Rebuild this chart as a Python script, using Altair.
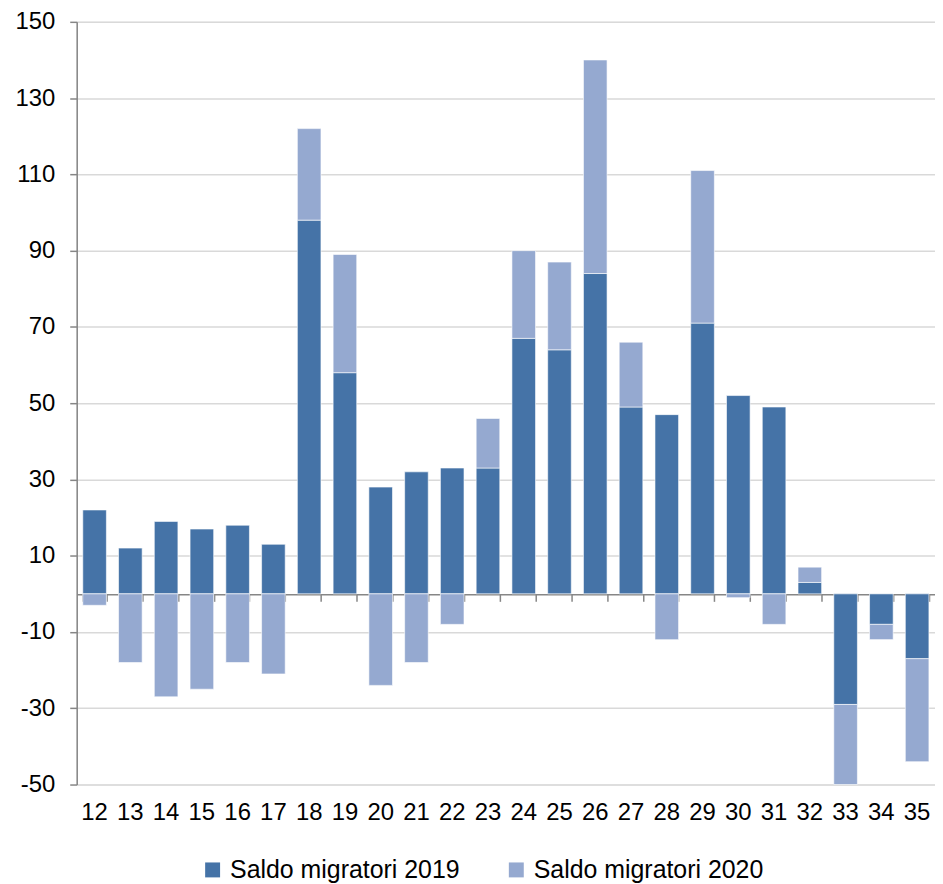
import altair as alt
import pandas as pd

regions = ["12", "13", "14", "15", "16", "17", "18", "19", "20", "21", "22", "23",
           "24", "25", "26", "27", "28", "29", "30", "31", "32", "33", "34", "35"]
saldo_2019 = [22, 12, 19, 17, 18, 13, 98, 58, 28, 32, 33, 33,
              67, 64, 84, 49, 47, 71, 52, 49, 3, -29, -8, -17]
saldo_2020 = [-3, -18, -27, -25, -18, -21, 24, 31, -24, -18, -8, 13,
              23, 23, 56, 17, -12, 40, -1, -8, 4, -21, -4, -27]
series = ["Saldo migratori 2019", "Saldo migratori 2020"]
y_ticks = [-50, -30, -10, 10, 30, 50, 70, 90, 110, 130, 150]

rows = []
for i, r in enumerate(regions):
    rows.append({"reg": r, "serie": series[0], "val": saldo_2019[i], "ord": 0})
    rows.append({"reg": r, "serie": series[1], "val": saldo_2020[i], "ord": 1})
df = pd.DataFrame(rows)

FONT = "Liberation Sans"
x_scale = alt.Scale(domain=regions, paddingInner=0.34, paddingOuter=0.17)
y_scale = alt.Scale(domain=[-50, 150], nice=False, zero=False)

bars = alt.Chart(df).mark_bar(stroke="white", strokeWidth=0.6).encode(
    x=alt.X("reg:N", scale=x_scale, sort=regions, title=None,
            axis=alt.Axis(orient="bottom", domain=False, ticks=False, labelAngle=0,
                          labelFont=FONT, labelFontSize=24, labelColor="#000000",
                          labelPadding=16, grid=False)),
    y=alt.Y("val:Q", stack="zero", scale=y_scale, title=None,
            axis=alt.Axis(values=y_ticks, grid=True, gridColor="#D9D9D9", gridWidth=1.5,
                          domainColor="#868686", domainWidth=1.5, tickColor="#868686",
                          tickWidth=1.5, tickSize=7, labelPadding=15, labelFont=FONT,
                          labelFontSize=24, labelColor="#000000",
                          labelExpr="'' + datum.value",
                          minExtent=69, maxExtent=69)),
    color=alt.Color("serie:N", scale=alt.Scale(domain=series, range=["#4573A7", "#95A9D0"]),
                    legend=alt.Legend(title=None, orient="none", direction="horizontal",
                                      legendX=124, legendY=839, symbolType="square",
                                      symbolSize=225, symbolStrokeWidth=0,
                                      labelFont=FONT, labelFontSize=25, labelLimit=0,
                                      labelColor="#000000", labelOffset=5,
                                      columnPadding=44)),
    order=alt.Order("ord:Q"),
)

zero_axis = alt.Chart(df).mark_point(opacity=0).encode(
    x=alt.X("reg:N", scale=x_scale, sort=regions, title=None,
            axis=alt.Axis(orient="bottom", offset=-191, labels=False, domain=True,
                          domainColor="#868686", domainWidth=1.5, ticks=True,
                          tickBand="extent", tickColor="#868686", tickWidth=1.5,
                          tickSize=7, grid=False)),
    y=alt.datum(0),
)

chart = alt.layer(bars, zero_axis).resolve_axis(x="independent").properties(
    width=862, height=766, padding={"left": 0, "top": 0, "right": 0, "bottom": 0}
).configure_view(stroke=None).configure(background="white")

chart.save("out.html", embed_options={"renderer": "svg", "actions": False})
